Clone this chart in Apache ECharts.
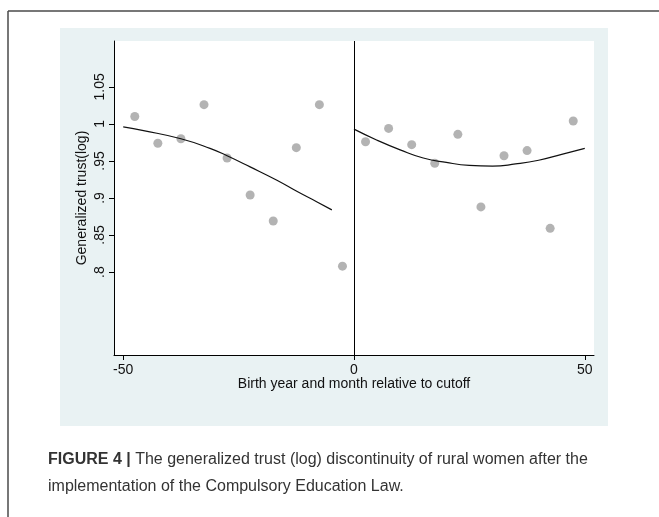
<!DOCTYPE html>
<html>
<head>
<meta charset="utf-8">
<script src="https://cdn.jsdelivr.net/npm/echarts@6/dist/echarts.min.js"></script>
<style>
html,body{margin:0;padding:0;background:#fff;}
#chart{width:659px;height:517px;}
</style>
</head>
<body>
<div id="chart"></div>
<script>
// Binned scatter points (bin centre, mean generalized trust log)
var leftX = [-47.5, -42.5, -37.5, -32.5, -27.5, -22.5, -17.5, -12.5, -7.5, -2.5];
var leftY = [1.010, 0.974, 0.980, 1.026, 0.954, 0.904, 0.869, 0.968, 1.026, 0.808];
var rightX = [2.5, 7.5, 12.5, 17.5, 22.5, 27.5, 32.5, 37.5, 42.5, 47.5];
var rightY = [0.976, 0.994, 0.972, 0.947, 0.986, 0.888, 0.957, 0.964, 0.859, 1.004];
// Fitted curves
var fitLeftX = [-50, -45.6, -37.5, -31.2, -27.5, -22.5, -16.7, -12.4, -8.1, -4.8];
var fitLeftY = [0.996, 0.991, 0.980, 0.967, 0.957, 0.942, 0.924, 0.909, 0.895, 0.884];
var fitRightX = [0, 5, 10, 15, 20, 25, 30, 35, 40, 45, 50];
var fitRightY = [0.993, 0.978, 0.965, 0.954, 0.948, 0.944, 0.943, 0.946, 0.951, 0.959, 0.967];
// Tick labels
var xTicks = [-50, 0, 50];
var yTicks = [0.8, 0.85, 0.9, 0.95, 1, 1.05];
var yTickLabels = ['.8', '.85', '.9', '.95', '1', '1.05'];
var xTitle = 'Birth year and month relative to cutoff';
var yTitle = 'Generalized trust(log)';
var captionBold = 'FIGURE 4 |';
var captionLine1 = ' The generalized trust (log) discontinuity of rural women after the';
var captionLine2 = 'implementation of the Compulsory Education Law.';

function zip(a, b) { return a.map(function (v, i) { return [v, b[i]]; }); }

var chart = echarts.init(document.getElementById('chart'), null, {renderer: 'canvas'});
var font = 'Liberation Sans, Arial, Helvetica, sans-serif';
var option = {
  backgroundColor: '#ffffff',
  animation: false,
  graphic: [
    {type: 'rect', z: -100, shape: {x: 60, y: 28, width: 548, height: 398}, style: {fill: '#e9f2f3'}},
    {type: 'line', z: 10, shape: {x1: 8, y1: 11, x2: 659, y2: 11}, style: {stroke: '#4a4a4a', lineWidth: 1.5}},
    {type: 'line', z: 10, shape: {x1: 8, y1: 11, x2: 8, y2: 517}, style: {stroke: '#4a4a4a', lineWidth: 1.5}},
    {type: 'text', z: 10, x: 48, y: 460, style: {
      text: '{b|' + captionBold + '}' + captionLine1,
      font: '16px ' + font, fill: '#333', verticalAlign: 'middle',
      rich: {b: {fontWeight: 'bold', fontSize: 16, fontFamily: font, fill: '#333'}}
    }},
    {type: 'text', z: 10, x: 48, y: 487, style: {
      text: captionLine2, font: '16px ' + font, fill: '#333', verticalAlign: 'middle'
    }}
  ],
  grid: {left: 114, top: 41, right: 65, bottom: 162, show: true, backgroundColor: '#ffffff', borderWidth: 0},
  xAxis: {
    type: 'value', min: -52, max: 52,
    name: xTitle, nameLocation: 'middle', nameGap: 22, nameMoveOverlap: false,
    nameTextStyle: {fontFamily: font, fontSize: 14, color: '#111'},
    axisLine: {show: true, onZero: false, lineStyle: {color: '#000', width: 1}},
    axisTick: {show: true, length: 5, customValues: xTicks, lineStyle: {color: '#000'}},
    axisLabel: {customValues: xTicks, fontFamily: font, fontSize: 14, color: '#111', margin: 8},
    splitLine: {show: false}
  },
  yAxis: {
    type: 'value', min: 0.688, max: 1.112,
    name: yTitle, nameLocation: 'middle', nameGap: 25, nameRotate: 90, nameMoveOverlap: false,
    nameTextStyle: {fontFamily: font, fontSize: 14, color: '#111'},
    axisLine: {show: true, onZero: false, lineStyle: {color: '#000', width: 1}},
    axisTick: {show: true, length: 5, customValues: yTicks, lineStyle: {color: '#000'}},
    axisLabel: {
      customValues: yTicks, rotate: 90, fontFamily: font, fontSize: 14, color: '#111', margin: 7,
      formatter: function (v) {
        for (var i = 0; i < yTicks.length; i++) { if (Math.abs(yTicks[i] - v) < 1e-6) return yTickLabels[i]; }
        return '';
      }
    },
    splitLine: {show: false}
  },
  series: [
    {type: 'scatter', data: zip(leftX, leftY), symbolSize: 9, itemStyle: {color: '#a0a0a0'}, z: 3},
    {type: 'scatter', data: zip(rightX, rightY), symbolSize: 9, itemStyle: {color: '#a0a0a0'}, z: 3},
    {type: 'line', data: zip(fitLeftX, fitLeftY), smooth: true, showSymbol: false, lineStyle: {color: '#111', width: 1.2}, z: 4},
    {type: 'line', data: zip(fitRightX, fitRightY), smooth: true, showSymbol: false, lineStyle: {color: '#111', width: 1.2}, z: 4,
      markLine: {silent: true, symbol: 'none', label: {show: false}, lineStyle: {color: '#000', width: 1, type: 'solid'}, data: [{xAxis: 0}]}}
  ]
};
chart.setOption(option);
</script>
</body>
</html>
